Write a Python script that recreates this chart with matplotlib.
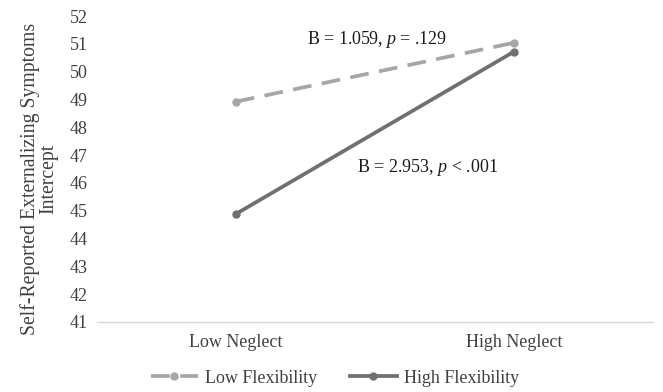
import matplotlib.pyplot as plt

plt.rcParams['font.family'] = ['Liberation Serif', 'DejaVu Serif']
plt.rcParams['mathtext.fontset'] = 'custom'
plt.rcParams['mathtext.rm'] = 'Liberation Serif'
plt.rcParams['mathtext.it'] = 'Liberation Serif:italic'

categories = ['Low Neglect', 'High Neglect']
low_flex = [48.92, 51.04]
high_flex = [44.88, 50.72]
yticks = list(range(41, 53))

text_col = '#404040'

fig = plt.figure(figsize=(6.63, 3.92), dpi=100)
ax = fig.add_axes([0.146, 0.179, 0.839, 0.780])

x = [0.5, 1.5]
ax.plot(x, low_flex, color='#a6a6a6', lw=2.7, ls=(0, (5, 2.8)),
        marker='o', ms=5, label='Low Flexibility')
ax.plot(x, high_flex, color='#707070', lw=2.7,
        marker='o', ms=5, label='High Flexibility')

ax.set_xlim(0, 2)
ax.set_ylim(41, 52)
ax.set_yticks(yticks)
ax.set_xticks(x)
ax.set_xticklabels(categories)
ax.tick_params(length=0, labelsize=13, colors=text_col)
ax.tick_params(axis='y', pad=6.5)
ax.tick_params(axis='x', pad=9)

for s in ['top', 'right', 'left']:
    ax.spines[s].set_visible(False)
ax.spines['bottom'].set_color('#d9d9d9')
ax.spines['bottom'].set_linewidth(1)

ax.set_ylabel('Self-Reported Externalizing Symptoms\nIntercept',
              fontsize=14.2, color=text_col, labelpad=8, linespacing=1.0)
ax.yaxis.label.set_y(0.467)

ax.text(1.007, 51.16, 'B = 1.059, $p$ = .129', fontsize=13,
        color='#1a1a1a', ha='center', va='center')
ax.text(1.189, 46.54, 'B = 2.953, $p$ < .001', fontsize=13,
        color='#1a1a1a', ha='center', va='center')

fig.legend(loc='center', bbox_to_anchor=(0.505, 0.035), ncol=2, frameon=False,
           fontsize=13, labelcolor=text_col, handlelength=2.6,
           handletextpad=0.4, columnspacing=1.8)

fig.savefig('out.png', dpi=100)
